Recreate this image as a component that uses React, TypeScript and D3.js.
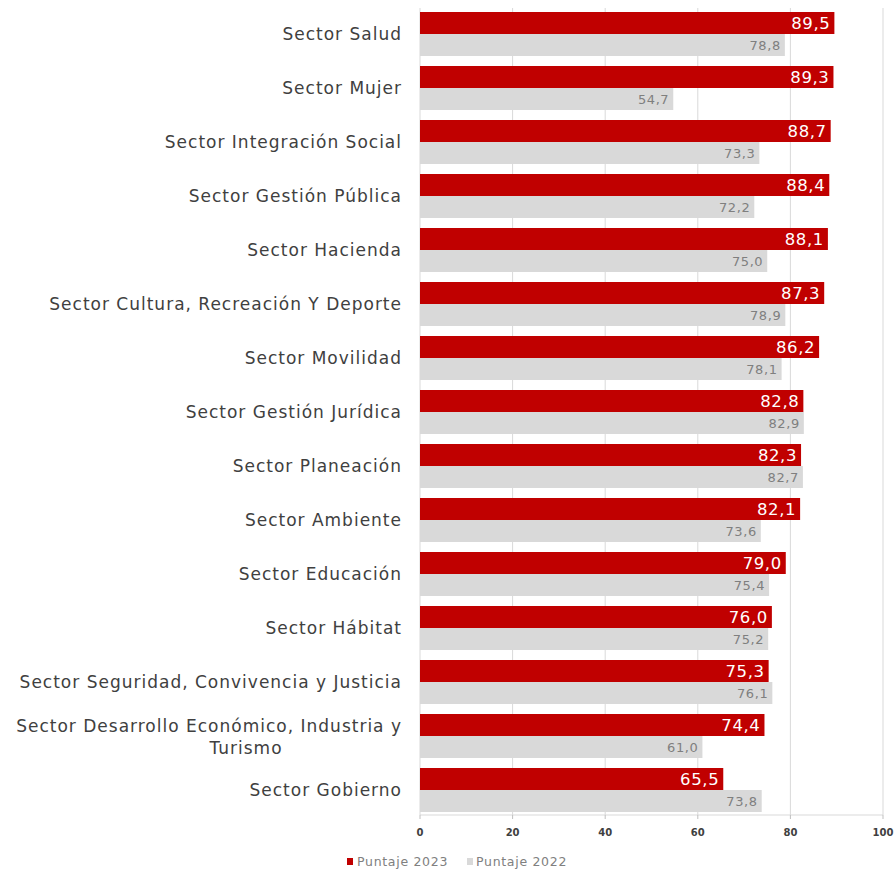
import React from "react";
import * as d3 from "d3";

const categories = [
  "Sector Salud",
  "Sector Mujer",
  "Sector Integración Social",
  "Sector Gestión Pública",
  "Sector Hacienda",
  "Sector Cultura, Recreación Y Deporte",
  "Sector Movilidad",
  "Sector Gestión Jurídica",
  "Sector Planeación",
  "Sector Ambiente",
  "Sector Educación",
  "Sector Hábitat",
  "Sector Seguridad, Convivencia y Justicia",
  "Sector Desarrollo Económico, Industria y|Turismo",
  "Sector Gobierno",
];
const puntaje2023 = [89.5, 89.3, 88.7, 88.4, 88.1, 87.3, 86.2, 82.8, 82.3, 82.1, 79.0, 76.0, 75.3, 74.4, 65.5];
const puntaje2022 = [78.8, 54.7, 73.3, 72.2, 75.0, 78.9, 78.1, 82.9, 82.7, 73.6, 75.4, 75.2, 76.1, 61.0, 73.8];
const xTicks = [0, 20, 40, 60, 80, 100];
const seriesNames = ["Puntaje 2023", "Puntaje 2022"];

const W = 894;
const H = 871;
const FONT = "'DejaVu Sans', sans-serif";

export default function App() {
  const x = d3.scaleLinear().domain([0, 100]).range([420, 883]);
  const y = d3.scaleBand<number>().domain(d3.range(categories.length)).range([7, 817]).paddingInner(10 / 54).paddingOuter(5 / 54);
  const bh = y.bandwidth() / 2;
  const fmt = (v: number) => v.toFixed(1).replace(".", ",");
  const axisY = 815;
  const lab = { fill: "#404040", fontSize: 17, letterSpacing: 1 };
  return (
    <svg width={W} height={H} style={{ position: "absolute", left: 0, top: 0, fontFamily: FONT }}>
      <rect width={W} height={H} fill="#fff" />
      {xTicks.map((t) => (
        <line key={t} x1={x(t)} x2={x(t)} y1={8} y2={axisY} stroke="#d9d9d9" strokeWidth={1} />
      ))}
      {categories.map((c, i) => {
        const y0 = y(i)!;
        const lines = c.split("|");
        const cy = y0 + bh;
        return (
          <g key={c}>
            <rect x={x(0)} y={y0} width={x(puntaje2023[i]) - x(0)} height={bh} fill="#C00000" />
            <rect x={x(0)} y={y0 + bh} width={x(puntaje2022[i]) - x(0)} height={bh} fill="#D9D9D9" />
            <text x={x(puntaje2023[i]) - 4} y={y0 + bh / 2} dy="0.36em" textAnchor="end" fill="#fff" fontSize={16.5} letterSpacing={0.6}>
              {fmt(puntaje2023[i])}
            </text>
            <text x={x(puntaje2022[i]) - 4} y={y0 + bh * 1.5} dy="0.36em" textAnchor="end" fill="#7f7f7f" fontSize={13} letterSpacing={0.6}>
              {fmt(puntaje2022[i])}
            </text>
            {lines.length === 1 ? (
              <text x={402} y={cy} dy="0.35em" textAnchor="end" {...lab}>
                {c}
              </text>
            ) : (
              <>
                <text x={402} y={cy - 10} dy="0.35em" textAnchor="end" {...lab}>
                  {lines[0]}
                </text>
                <text x={246} y={cy + 12} dy="0.35em" textAnchor="middle" {...lab}>
                  {lines[1]}
                </text>
              </>
            )}
          </g>
        );
      })}
      <line x1={x(0)} x2={x(100)} y1={axisY} y2={axisY} stroke="#d9d9d9" />
      {xTicks.map((t) => (
        <g key={"t" + t}>
          <line x1={x(t)} x2={x(t)} y1={axisY} y2={axisY + 4} stroke="#bfbfbf" />
          <text x={x(t)} y={836} textAnchor="middle" fill="#404040" fontSize={10} fontWeight="bold">
            {t}
          </text>
        </g>
      ))}
      <g>
        <rect x={347} y={858} width={6} height={7} fill="#C00000" />
        <text x={357} y={866} fill="#808080" fontSize={12.5} letterSpacing={0.7}>{seriesNames[0]}</text>
        <rect x={467} y={858} width={6} height={7} fill="#D9D9D9" />
        <text x={476} y={866} fill="#808080" fontSize={12.5} letterSpacing={0.7}>{seriesNames[1]}</text>
      </g>
    </svg>
  );
}
